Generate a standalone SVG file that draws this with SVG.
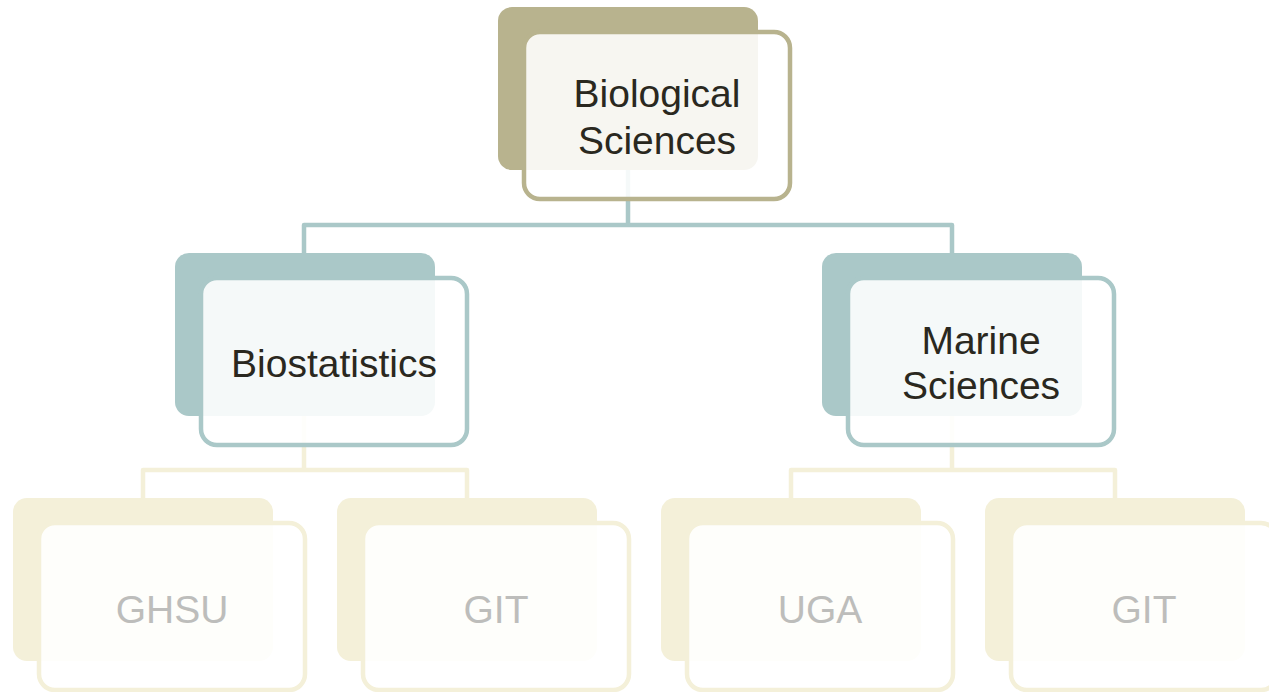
<svg xmlns="http://www.w3.org/2000/svg" width="1269" height="692" viewBox="0 0 1269 692">
<style>
.bg{stroke:none}
.fr{fill:#ffffff;fill-opacity:0.88;stroke-width:4.5}
.l1 .bg{fill:#B8B38E}.l1 .fr{stroke:#B8B38E}
.l2 .bg{fill:#AAC8C8}.l2 .fr{stroke:#AAC8C8}
.l3 .bg{fill:#F4F0D9}.l3 .fr{stroke:#F4F0D9}
text{font-family:"Liberation Sans",Arial,sans-serif;font-size:39px;text-anchor:middle}
.l1 text,.l2 text{fill:#2A2820}
.l3 text{fill:#BDBDBB}
.c{fill:none;stroke-width:4.5;stroke-linejoin:round}
.c1{stroke:#AAC8C8}
.c3{stroke:#F4F0D9}
</style>
<g id="connectors">
<path class="c c1" d="M628 170 V225 M304 253 V225 H952 V253"/>
<path class="c c3" d="M304 415 V470 M143 498 V470 H467 V498"/>
<path class="c c3" d="M952 415 V470 M791 498 V470 H1115 V498"/>
</g>
<g id="n-bio" class="l1">
<rect class="bg" x="498" y="7" width="260" height="163" rx="14"/>
<rect class="fr" x="524" y="32" width="266" height="167" rx="16"/>
<text x="657" y="107">Biological</text>
<text x="657" y="154">Sciences</text>
</g>
<g id="n-biostat" class="l2">
<rect class="bg" x="175" y="253" width="260" height="163" rx="14"/>
<rect class="fr" x="201" y="278" width="266" height="167" rx="16"/>
<text x="334" y="377">Biostatistics</text>
</g>
<g id="n-marine" class="l2">
<rect class="bg" x="822" y="253" width="260" height="163" rx="14"/>
<rect class="fr" x="848" y="278" width="266" height="167" rx="16"/>
<text x="981" y="354">Marine</text>
<text x="981" y="399">Sciences</text>
</g>
<g id="n-ghsu" class="l3">
<rect class="bg" x="13" y="498" width="260" height="163" rx="14"/>
<rect class="fr" x="39" y="523" width="266" height="167" rx="16"/>
<text x="172" y="623">GHSU</text>
</g>
<g id="n-git1" class="l3">
<rect class="bg" x="337" y="498" width="260" height="163" rx="14"/>
<rect class="fr" x="363" y="523" width="266" height="167" rx="16"/>
<text x="496" y="623">GIT</text>
</g>
<g id="n-uga" class="l3">
<rect class="bg" x="661" y="498" width="260" height="163" rx="14"/>
<rect class="fr" x="687" y="523" width="266" height="167" rx="16"/>
<text x="820" y="623">UGA</text>
</g>
<g id="n-git2" class="l3">
<rect class="bg" x="985" y="498" width="260" height="163" rx="14"/>
<rect class="fr" x="1011" y="523" width="266" height="167" rx="16"/>
<text x="1144" y="623">GIT</text>
</g>
</svg>
